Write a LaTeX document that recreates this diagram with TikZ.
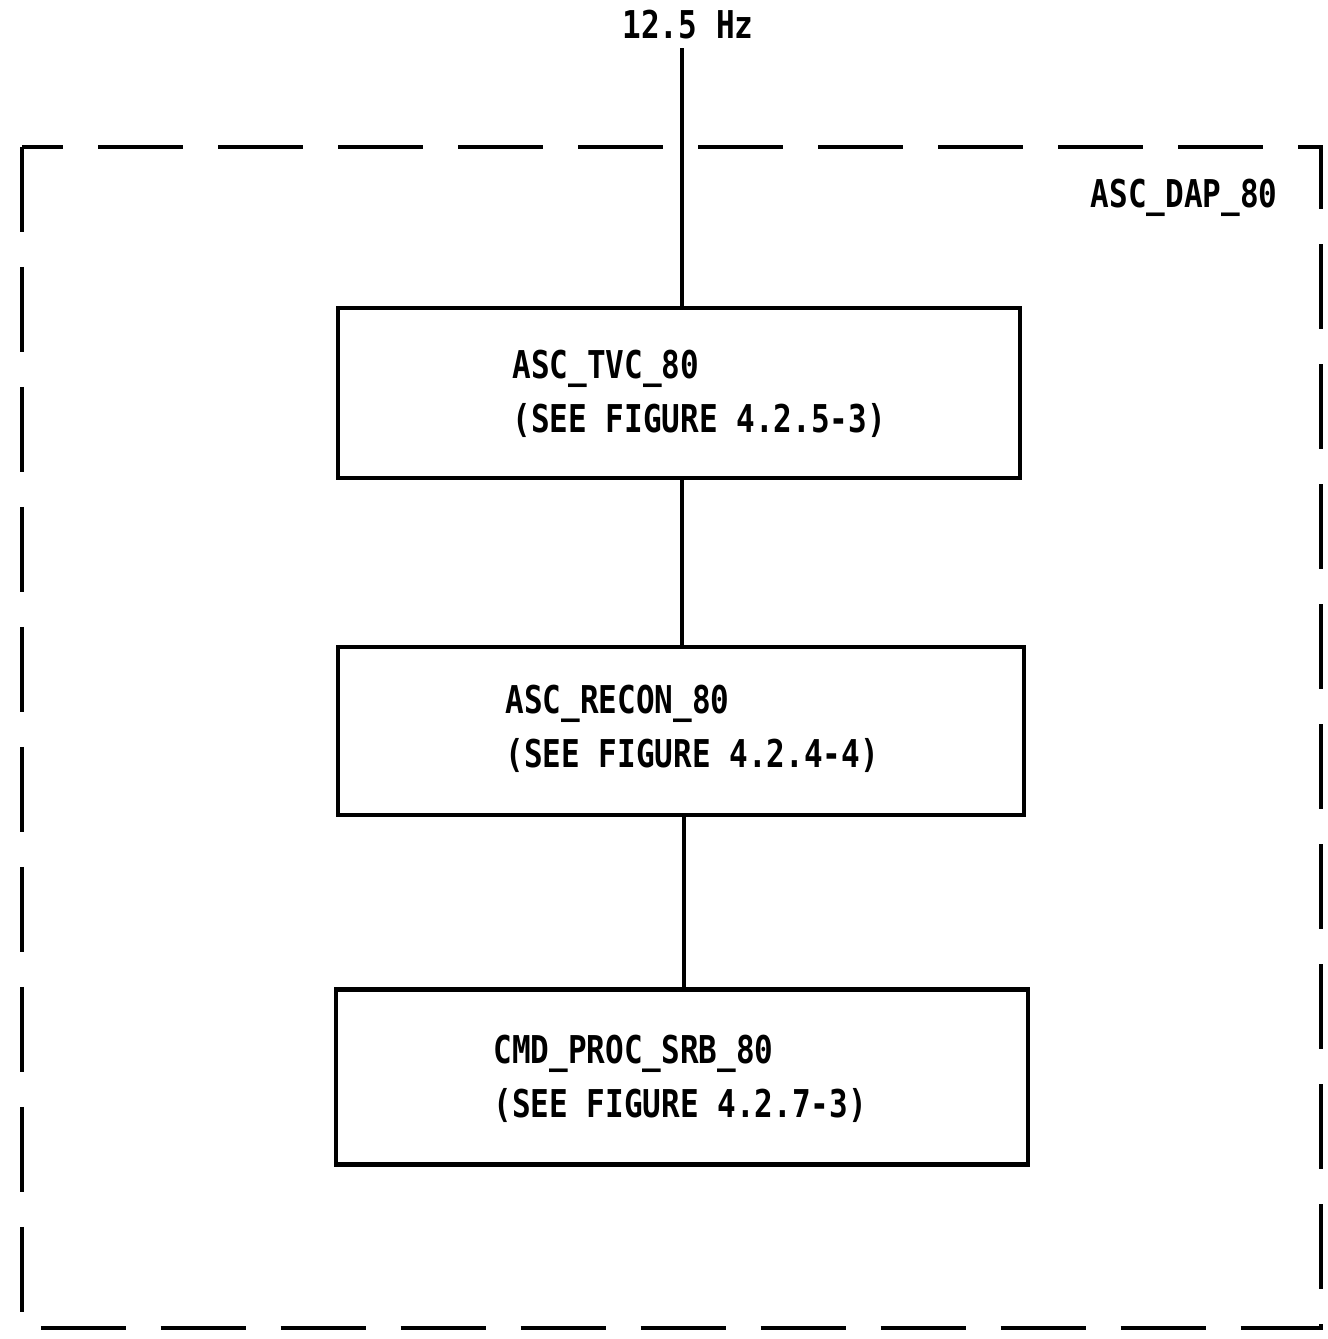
\documentclass[tikz,border=0pt]{standalone}
\usepackage{fontspec}
\usepackage{tikz}
\usetikzlibrary{positioning, calc}
\newfontfamily\dapfont[FakeStretch=0.81]{DejaVu Sans Mono}
\tikzset{
  modbox/.style={draw, line width=2.4pt, inner sep=0pt},
  modtext/.style={anchor=base west, font=\dapfont\bfseries\fontsize{21.8}{30.7}\selectfont, inner sep=0pt, align=left},
  link/.style={line width=1.9pt}
}

\begin{document}
\begin{tikzpicture}[x=0.02cm, y=-0.02cm]
\useasboundingbox (0,0) rectangle (1328,1339);

% Outer module boundary
\draw[line width=2.8pt, dash pattern=on 1.7cm off 0.7cm] (22,147) rectangle (1321,1328);
\node[modtext, anchor=base east] (dap) at (1278,207) {ASC\_DAP\_80};

% Rate input
\node[modtext, anchor=base] (rate) at (688,38) {12.5 Hz};
\coordinate (ratein) at (682,48);

% Sub-modules
\node[modbox, minimum width=13.64cm, minimum height=3.4cm] (tvc) at (679,393) {};
\node[modbox, minimum width=13.72cm, minimum height=3.36cm] (recon) at (681,731) {};
\node[modbox, minimum width=13.84cm, minimum height=3.5cm] (srb) at (682,1077) {};

% text anchored on the last line
\node[modtext] (tvctext) at (512,432) {ASC\_TVC\_80\\(SEE FIGURE 4.2.5-3)};
\node[modtext] (recontext) at (505,767) {ASC\_RECON\_80\\(SEE FIGURE 4.2.4-4)};
\node[modtext] (srbtext) at (493,1117) {CMD\_PROC\_SRB\_80\\(SEE FIGURE 4.2.7-3)};

% Connections
\draw[link] (ratein) -- (ratein |- tvc.north);
\draw[link] (tvc.south -| 682,0) -- (recon.north -| 682,0);
\draw[link] (recon.south -| 684,0) -- (srb.north -| 684,0);
\end{tikzpicture}
\end{document}
